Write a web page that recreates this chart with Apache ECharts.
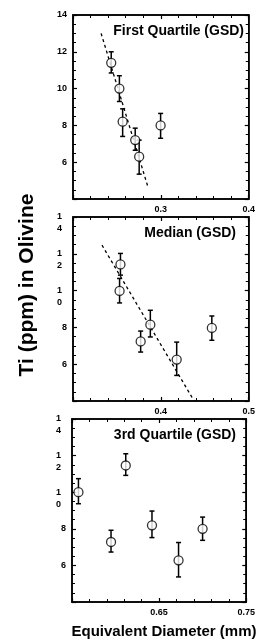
<!DOCTYPE html>
<html>
<head>
<meta charset="utf-8">
<script src="https://cdn.jsdelivr.net/npm/echarts@6/dist/echarts.min.js"></script>
<style>
  html, body { margin: 0; padding: 0; background: #fff; }
  #chart { width: 258px; height: 641px; }
</style>
</head>
<body>
<div id="chart"></div>
<script>
// values (Ti in ppm vs equivalent diameter in mm)
const q1X = [0.2435, 0.2528, 0.2565, 0.2708, 0.2753, 0.2997]
const q1Ti = [11.4, 10.0, 8.2, 7.2, 6.3, 8.0]
const q1Low = [10.85, 9.3, 7.4, 6.65, 5.35, 7.3]
const q1High = [12.0, 10.7, 8.9, 7.85, 7.2, 8.65]
const q1Fit = [[0.232, 13.0], [0.285, 4.7]]

const medX = [0.354, 0.353, 0.388, 0.377, 0.418, 0.458]
const medTi = [11.42, 9.98, 8.15, 7.24, 6.25, 7.97]
const medLow = [10.84, 9.33, 7.48, 6.66, 5.39, 7.3]
const medHigh = [12.02, 10.66, 8.93, 7.8, 7.2, 8.62]
const medFit = [[0.333, 12.47], [0.4375, 4.03]]

const q3X = [0.5574, 0.6117, 0.5948, 0.6418, 0.6723, 0.6999]
const q3Ti = [10.0, 11.46, 7.28, 8.19, 6.28, 8.0]
const q3Low = [9.37, 10.92, 6.73, 7.52, 5.37, 7.37]
const q3High = [10.74, 12.1, 7.92, 8.97, 7.25, 8.64]

const titles = ['First Quartile (GSD)', 'Median (GSD)', '3rd Quartile (GSD)']
const xRanges = [[0.2, 0.4], [0.3, 0.5], [0.55, 0.75]]
const xDigits = [1, 1, 2]
const yMin = 4, yMax = 14, yStep = 2

const font = 'Liberation Sans'
const grids = [
  { left: 73, top: 15, width: 178, height: 184 },
  { left: 73, top: 217, width: 177, height: 184 },
  { left: 72, top: 419, width: 178, height: 183 }
]

const chart = echarts.init(document.getElementById('chart'))

let xAxes = [], yAxes = [], series = [], graphics = []

function tickStyle() {
  return {
    axisLine: { show: true, lineStyle: { color: '#000', width: 1.5 } },
    axisTick: { show: true, inside: true, length: 4, lineStyle: { color: '#000', width: 1.2 } },
    minorTick: { show: true, splitNumber: 4, length: 3, lineStyle: { color: '#000', width: 1 } },
    splitLine: { show: false }
  }
}

function addPanel(i, xs, ys, lows, highs, fit) {
  const split = i > 0
  const xr = xRanges[i]
  // bottom + top x axes
  xAxes.push(Object.assign({
    gridIndex: i, type: 'value', position: 'bottom', min: xr[0], max: xr[1], interval: 0.1,
    axisLabel: {
      show: true, showMinLabel: false, color: '#000', fontSize: 9, fontWeight: 'bold',
      fontFamily: font, margin: 6,
      formatter: v => v.toFixed(xDigits[i])
    }
  }, tickStyle()))
  xAxes.push(Object.assign({
    gridIndex: i, type: 'value', position: 'top', min: xr[0], max: xr[1], interval: 0.1,
    axisLabel: { show: false }
  }, tickStyle()))
  xAxes[xAxes.length - 1].minorTick.splitNumber = 5
  xAxes[xAxes.length - 2].minorTick.splitNumber = 5
  // left + right y axes
  yAxes.push(Object.assign({
    gridIndex: i, type: 'value', position: 'left', min: yMin, max: yMax, interval: yStep,
    axisLabel: {
      show: true, showMinLabel: false, color: '#000', fontSize: 9, fontWeight: 'bold',
      fontFamily: font, margin: 6, lineHeight: 12,
      formatter: function (v) {
        const s = String(v)
        if (split && s.length > 1) return '{d| }\n{d|' + s[0] + '}\n{d|' + s[1] + '}'
        return s
      },
      rich: { d: { fontSize: 9, fontWeight: 'bold', fontFamily: font, color: '#000', lineHeight: 12, padding: [0, 5, 0, 0] } }
    }
  }, tickStyle()))
  yAxes.push(Object.assign({
    gridIndex: i, type: 'value', position: 'right', min: yMin, max: yMax, interval: yStep,
    axisLabel: { show: false }
  }, tickStyle()))

  const xi = i * 2, yi = i * 2
  const bars = xs.map((x, k) => [x, lows[k], highs[k]])
  series.push({
    type: 'custom', xAxisIndex: xi, yAxisIndex: yi, z: 2, silent: true,
    data: bars,
    renderItem: function (params, api) {
      const x = api.value(0)
      const lo = api.coord([x, api.value(1)])
      const hi = api.coord([x, api.value(2)])
      const st = { stroke: '#000', lineWidth: 1.5 }
      return {
        type: 'group',
        children: [
          { type: 'line', shape: { x1: lo[0], y1: lo[1], x2: hi[0], y2: hi[1] }, style: st },
          { type: 'line', shape: { x1: hi[0] - 2.5, y1: hi[1], x2: hi[0] + 2.5, y2: hi[1] }, style: st },
          { type: 'line', shape: { x1: lo[0] - 2.5, y1: lo[1], x2: lo[0] + 2.5, y2: lo[1] }, style: st }
        ]
      }
    }
  })
  if (fit) {
    series.push({
      type: 'line', xAxisIndex: xi, yAxisIndex: yi, z: 1, silent: true,
      data: fit, showSymbol: false,
      lineStyle: { color: '#000', width: 1.3, type: [3, 3] }
    })
  }
  series.push({
    type: 'scatter', xAxisIndex: xi, yAxisIndex: yi, z: 3, silent: true,
    data: xs.map((x, k) => [x, ys[k]]),
    symbol: 'circle', symbolSize: 9,
    itemStyle: { color: '#fff', borderColor: '#000', borderWidth: 1.3 }
  })
}

addPanel(0, q1X, q1Ti, q1Low, q1High, q1Fit)
addPanel(1, medX, medTi, medLow, medHigh, medFit)
addPanel(2, q3X, q3Ti, q3Low, q3High, null)

const titlePos = [[244, 31], [236, 233], [236, 435]]
titles.forEach((t, i) => {
  graphics.push({
    type: 'text', x: titlePos[i][0], y: titlePos[i][1],
    style: { text: t, fontSize: 14, fontWeight: 'bold', fontFamily: font, fill: '#000', align: 'right', verticalAlign: 'middle' }
  })
})
graphics.push({
  type: 'text', x: 164, y: 632,
  style: { text: 'Equivalent Diameter (mm)', fontSize: 15, fontWeight: 'bold', fontFamily: font, fill: '#000', align: 'center', verticalAlign: 'middle' }
})
graphics.push({
  type: 'text', x: 27, y: 285, rotation: Math.PI / 2,
  style: { text: 'Ti (ppm) in Olivine', fontSize: 21, fontWeight: 'bold', fontFamily: font, fill: '#000', align: 'center', verticalAlign: 'middle' }
})

chart.setOption({
  animation: false,
  backgroundColor: '#fff',
  grid: grids.map(g => Object.assign({ show: true, borderColor: '#000', borderWidth: 1.5, backgroundColor: 'transparent' }, g)),
  xAxis: xAxes,
  yAxis: yAxes,
  series: series,
  graphic: graphics
})
</script>
</body>
</html>
